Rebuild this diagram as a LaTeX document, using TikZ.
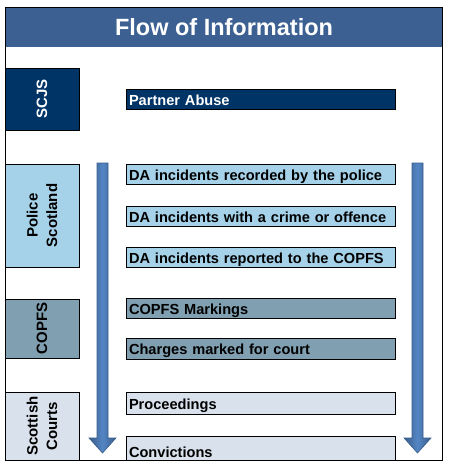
\documentclass[tikz,border=0pt]{standalone}
\usepackage{fontspec}
\setmainfont{Liberation Sans}

\definecolor{titleblue}{RGB}{59,96,145}
\definecolor{navy}{RGB}{0,51,102}
\definecolor{policeblue}{RGB}{166,210,233}
\definecolor{copfsgrey}{RGB}{128,159,176}
\definecolor{courtgrey}{RGB}{217,226,236}
\definecolor{arrowblue}{RGB}{84,134,196}
\definecolor{arrowdark}{RGB}{56,93,138}

\begin{document}
\begin{tikzpicture}[
    x=1pt, y=-1pt,
    titlebar/.style={rectangle, fill=titleblue, text=white, minimum width=438pt, minimum height=40pt, font=\fontsize{23.5}{26}\selectfont\bfseries},
    agency/.style={rectangle, draw=black, line width=0.8pt, rotate=90, minimum height=74pt, align=center, font=\fontsize{15}{19.5}\selectfont\bfseries},
    stage/.style={rectangle, draw=black, line width=0.8pt, minimum width=269pt, minimum height=20pt, inner sep=0pt, inner xsep=3pt, text width=263pt, align=left, text height=13pt, text depth=1pt, font=\fontsize{14.6}{17}\selectfont\bfseries},
    flowarrow/.style={draw=arrowdark, line width=0.6pt, left color=arrowdark, right color=arrowdark, middle color=arrowblue}
]
\useasboundingbox (0,0) rectangle (453,471);

% Titre
\node[titlebar] (title) at (224,27) {Flow of Information};

% Organismes
\node[agency, fill=navy, text=white, minimum width=62pt] (scjs) at (42,99) {SCJS};
\node[agency, fill=policeblue, minimum width=103pt] (police) at (42,215.5) {Police\\Scotland};
\node[agency, fill=copfsgrey, minimum width=59pt] (copfs) at (42,328.5) {COPFS};
\node[agency, fill=courtgrey, minimum width=68pt] (courts) at (42,426) {Scottish\\Courts};

% Fleches
\foreach \ax in {102.5,417.5}
  \shadedraw[flowarrow] (\ax-5.5,163) -- (\ax+5.5,163) -- (\ax+5.5,438) -- (\ax+13.5,438) -- (\ax,453) -- (\ax-13.5,438) -- (\ax-5.5,438) -- cycle;

% Etapes
\node[stage, fill=navy, text=white] (abuse) at (260.5,99) {Partner Abuse};
\node[stage, fill=policeblue] (recorded) at (260.5,174) {DA incidents recorded by the police};
\node[stage, fill=policeblue] (crime) at (260.5,216) {DA incidents with a crime or offence};
\node[stage, fill=policeblue] (reported) at (260.5,257) {DA incidents reported to the COPFS};
\node[stage, fill=copfsgrey] (markings) at (260.5,308.5) {COPFS Markings};
\node[stage, fill=copfsgrey, minimum height=21pt] (charges) at (260.5,348.5) {Charges marked for court};
\node[stage, fill=courtgrey, minimum height=22pt] (proceedings) at (260.5,403) {Proceedings};
\begin{scope}
  \clip (5,7) rectangle (442,460);
  \node[stage, fill=courtgrey, minimum height=30pt] (convictions) at (260.5,451.5) {Convictions};
\end{scope}

% Cadre
\draw[line width=1pt] (5,7) rectangle (442,460);

\end{tikzpicture}
\end{document}
